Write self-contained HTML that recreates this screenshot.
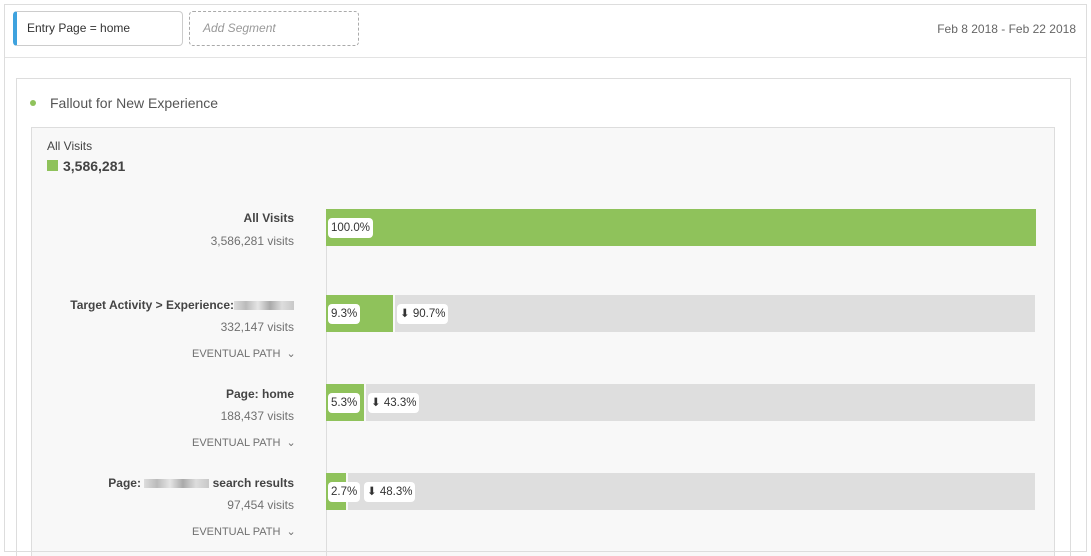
<!DOCTYPE html>
<html><head><meta charset="utf-8"><style>
*{margin:0;padding:0;box-sizing:border-box}
html,body{width:1091px;height:556px;overflow:hidden}
body{background:#fff;font-family:"Liberation Sans",sans-serif;position:relative;color:#4b4b4b}
.a{position:absolute}
.badge{position:absolute;background:#fff;border-radius:4px;font-size:11.5px;color:#333;height:20px;line-height:20px;padding:0 3px;top:9px;z-index:5;white-space:nowrap}
.lbl{position:absolute;right:797px;text-align:right;white-space:nowrap}
.t{font-size:12px;font-weight:bold;color:#444}
.v{font-size:12px;color:#707070}
.e{font-size:11px;color:#707070}
.blur{display:inline-block;width:60px;height:9px;background:linear-gradient(90deg,#ddd,#bbb,#e5e5e5,#aaa,#ddd,#c8c8c8);vertical-align:middle}
</style></head><body>
<div class="a" style="left:4px;top:4px;width:1083px;height:548px;border:1px solid #ddd"></div>
<div class="a" style="left:5px;top:57px;width:1081px;height:1px;background:#e3e3e3"></div>
<div class="a" style="left:13px;top:11px;width:170px;height:35px;border:1px solid #ccc;border-left:4px solid #3ea2de;border-radius:4px;font-size:12px;color:#333;line-height:33px;padding-left:10px">Entry Page = home</div>
<div class="a" style="left:189px;top:11px;width:170px;height:35px;border:1px dashed #aaa;border-radius:4px;font-size:12px;font-style:italic;color:#999;line-height:33px;padding-left:13px">Add Segment</div>
<div class="a" style="right:15px;top:22px;font-size:12px;color:#666">Feb 8 2018 - Feb 22 2018</div>
<div class="a" style="left:16px;top:78px;width:1055px;height:478px;border:1px solid #ddd;border-bottom:none"></div>
<div class="a" style="left:30px;top:100px;width:6px;height:6px;border-radius:50%;background:#8fc25b"></div>
<div class="a" style="left:50px;top:95px;font-size:14px;color:#555">Fallout for New Experience</div>
<div class="a" style="left:31px;top:127px;width:1024px;height:429px;border:1px solid #ddd;border-bottom:none;background:#f8f8f8"></div>
<div class="a" style="left:47px;top:139px;font-size:12px;color:#444">All Visits</div>
<div class="a" style="left:47px;top:160px;width:11px;height:11px;background:#8fc25b"></div>
<div class="a" style="left:63px;top:158px;font-size:14px;font-weight:bold;color:#444">3,586,281</div>
<div class="a" style="left:326px;top:246px;width:1px;height:310px;background:#ddd"></div>

<div class="lbl t" style="top:211px">All Visits</div>
<div class="lbl v" style="top:234px">3,586,281 visits</div>
<div class="a" style="left:326px;top:209px;width:710px;height:37px;background:#8fc25b"><div class="badge" style="left:2px">100.0%</div></div>

<div class="lbl t" style="top:298px">Target Activity &gt; Experience:<span class="blur"></span></div>
<div class="lbl v" style="top:320px">332,147 visits</div>
<div class="a e" style="left:192px;top:347px">EVENTUAL PATH &nbsp;⌄</div>
<div class="a" style="left:326px;top:295px;width:67px;height:37px;background:#8fc25b"><div class="badge" style="left:2px">9.3%</div></div>
<div class="a" style="left:395px;top:295px;width:640px;height:37px;background:#dedede"><div class="badge" style="left:2px">⬇ 90.7%</div></div>

<div class="lbl t" style="top:387px">Page: home</div>
<div class="lbl v" style="top:409px">188,437 visits</div>
<div class="a e" style="left:192px;top:436px">EVENTUAL PATH &nbsp;⌄</div>
<div class="a" style="left:326px;top:384px;width:38px;height:37px;background:#8fc25b;z-index:3"><div class="badge" style="left:2px">5.3%</div></div>
<div class="a" style="left:366px;top:384px;width:669px;height:37px;background:#dedede"><div class="badge" style="left:2px">⬇ 43.3%</div></div>

<div class="lbl t" style="top:476px">Page: <span class="blur" style="width:65px"></span> search results</div>
<div class="lbl v" style="top:498px">97,454 visits</div>
<div class="a e" style="left:192px;top:525px">EVENTUAL PATH &nbsp;⌄</div>
<div class="a" style="left:326px;top:473px;width:20px;height:37px;background:#8fc25b;z-index:3"><div class="badge" style="left:2px">2.7%</div></div>
<div class="a" style="left:348px;top:473px;width:687px;height:37px;background:#dedede"><div class="badge" style="left:16px">⬇ 48.3%</div></div>
<div class="a" style="left:4px;top:551px;width:1083px;height:1px;background:#ddd;z-index:9"></div>
</body></html>
